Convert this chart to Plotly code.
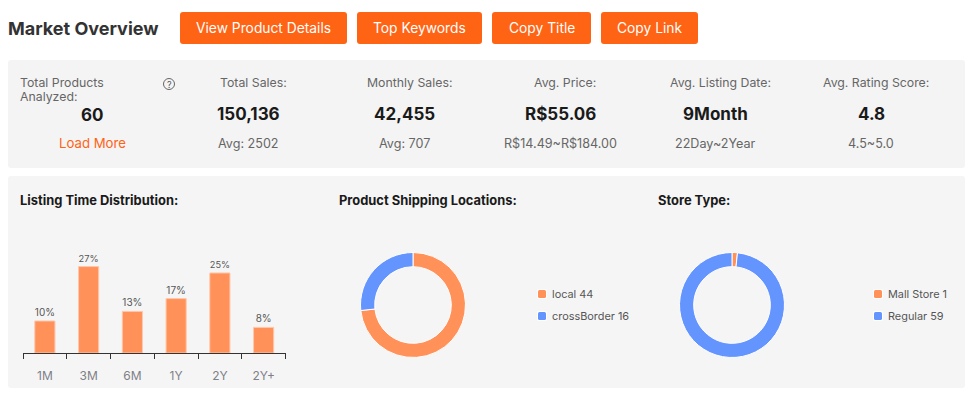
import plotly.graph_objects as go

W, H = 972, 396

# ---- data ----
listing_categories = ["1M", "3M", "6M", "1Y", "2Y", "2Y+"]
listing_percent = [10, 27, 13, 17, 25, 8]
shipping_labels = ["local", "crossBorder"]
shipping_counts = [44, 16]
store_labels = ["Mall Store", "Regular"]
store_counts = [1, 59]
button_labels = ["View Product Details", "Top Keywords", "Copy Title", "Copy Link"]
stat_labels = ["Total Sales:", "Monthly Sales:", "Avg. Price:", "Avg. Listing Date:", "Avg. Rating Score:"]
stat_values = ["150,136", "42,455", "R$55.06", "9Month", "4.8"]
stat_subs = ["Avg: 2502", "Avg: 707", "R$14.49~R$184.00", "22Day~2Year", "4.5~5.0"]

# ---- style / layout ----
FONT = "Inter, 'Noto Sans', sans-serif"
ORANGE = "#FF6314"
BAR = "#FF9159"
BLUE = "#6495FF"
button_boxes = [(180, 347), (357, 482), (492, 591), (601, 698)]
label_x = [253, 409, 565, 720.5, 876]
value_x = [248, 404, 560, 715, 871]


def px(x):
    return x / W


def py(y):
    return 1 - y / H


def rrect(x0, y0, x1, y1, r, fill, line=None, lw=0):
    path = (
        f"M{px(x0 + r)},{py(y0)} L{px(x1 - r)},{py(y0)} Q{px(x1)},{py(y0)} {px(x1)},{py(y0 + r)} "
        f"L{px(x1)},{py(y1 - r)} Q{px(x1)},{py(y1)} {px(x1 - r)},{py(y1)} "
        f"L{px(x0 + r)},{py(y1)} Q{px(x0)},{py(y1)} {px(x0)},{py(y1 - r)} "
        f"L{px(x0)},{py(y0 + r)} Q{px(x0)},{py(y0)} {px(x0 + r)},{py(y0)} Z"
    )
    return dict(type="path", path=path, xref="paper", yref="paper", fillcolor=fill,
                line=dict(color=line or fill, width=lw), layer="below")


def text(x, y, s, size=12, color="#666666", anchor="center", bold=False):
    if anchor == "left":
        x -= 2
    return dict(x=px(x), y=py(y), xref="paper", yref="paper", text=f"<b>{s}</b>" if bold else s,
                showarrow=False, xanchor=anchor, yanchor="middle", align="left",
                font=dict(family=FONT, size=size, color=color))


shapes = [rrect(8, 60, 965, 168, 3, "#F4F4F4"), rrect(8, 176, 965, 388, 3, "#F5F5F5")]
annotations = [text(8, 28, "Market Overview", 18, "#333333", "left", True)]

for (x0, x1), label in zip(button_boxes, button_labels):
    shapes.append(rrect(x0, 12, x1, 44, 3, ORANGE))
    annotations.append(text((x0 + x1) / 2, 28, label, 13.8, "#FFFFFF"))

annotations += [
    text(20, 83, "Total Products", 12.3, "#666666", "left"),
    text(20, 97, "Analyzed:", 12.3, "#666666", "left"),
    text(92.5, 115, "60", 17, "#1A1A1A", "center", True),
    text(92.5, 143, "Load More", 13.2, ORANGE),
    text(169, 84, "?", 9, "#555555"),
]
shapes.append(dict(type="circle", xref="paper", yref="paper", x0=px(163.5), x1=px(174.5),
                   y0=py(78.5), y1=py(89.5), line=dict(color="#666666", width=1), layer="above"))

for lx, vx, a, b, c in zip(label_x, value_x, stat_labels, stat_values, stat_subs):
    annotations.append(text(lx, 83, a, 12.3, "#666666"))
    annotations.append(text(vx, 114, b, 17, "#1A1A1A", "center", True))
    annotations.append(text(vx, 143, c, 12.6, "#666666"))

annotations += [
    text(20, 200, "Listing Time Distribution:", 12.9, "#1A1A1A", "left", True),
    text(339, 200, "Product Shipping Locations:", 12.9, "#1A1A1A", "left", True),
    text(658, 200, "Store Type:", 12.9, "#1A1A1A", "left", True),
]


def legend(x, labels, counts):
    for i, (lab, cnt) in enumerate(zip(labels, counts)):
        y = 294 + i * 22
        color = [BAR, BLUE][i]
        shapes.append(rrect(x - 5, y - 5, x + 5, y + 5, 2, "#FFFFFF"))
        shapes.append(rrect(x - 4, y - 4, x + 4, y + 4, 1.5, color))
        annotations.append(text(x + 10, y, f"{lab} {cnt}", 10.9, "#555555", "left"))


legend(542, shipping_labels, shipping_counts)
legend(878, store_labels, store_counts)

fig = go.Figure()
fig.add_trace(go.Bar(
    x=listing_categories, y=listing_percent, width=0.46,
    text=[f"{v}%" for v in listing_percent], textposition="outside", cliponaxis=False,
    textfont=dict(family=FONT, size=10, color="#555555"),
    marker=dict(color=BAR, line=dict(color="#FFC7AC", width=1)),
    showlegend=False, hoverinfo="skip",
))


def donut(labels, counts, cx, cy=305, r=52.5):
    fig.add_trace(go.Pie(
        labels=labels, values=counts, hole=0.73, sort=False, direction="clockwise", rotation=0,
        textinfo="none", showlegend=False, hoverinfo="skip",
        marker=dict(colors=[BAR, BLUE], line=dict(color="#FFFFFF", width=1)),
        domain=dict(x=[px(cx - r), px(cx + r)], y=[py(cy + r), py(cy - r)]),
    ))


donut(shipping_labels, shipping_counts, 413)
donut(store_labels, store_counts, 732)

fig.update_layout(
    width=W, height=H, margin=dict(l=0, r=0, t=0, b=0), autosize=False,
    paper_bgcolor="#FFFFFF", plot_bgcolor="rgba(0,0,0,0)",
    shapes=shapes, annotations=annotations, font=dict(family=FONT),
    xaxis=dict(domain=[px(23), px(285.5)], type="category", range=[-0.5, 5.5], tickson="boundaries",
               ticks="outside", ticklen=5, tickcolor="#333333", tickwidth=1,
               showline=True, linecolor="#333333", linewidth=1, showgrid=False, zeroline=False,
               ticklabelstandoff=12, tickfont=dict(family=FONT, size=12, color="#7E8088"), fixedrange=True),
    yaxis=dict(domain=[py(353), py(240)], range=[0, 35.3], visible=False, fixedrange=True),
)

fig.write_html("out.html", config=dict(displayModeBar=False),
               post_script="document.body.style.margin='0';")
